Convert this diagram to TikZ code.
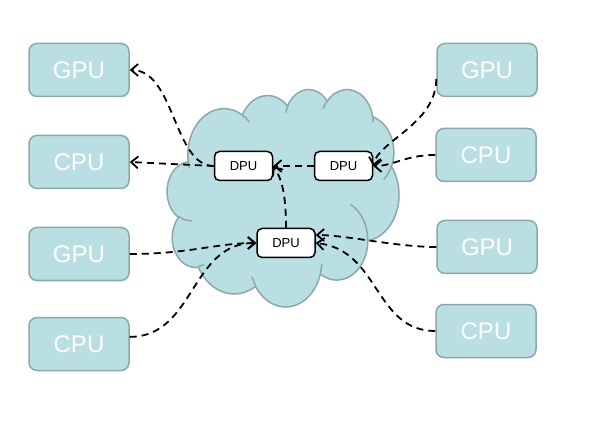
\documentclass[tikz,border=0pt]{standalone}
\usepackage{fontspec}
\setmainfont{Liberation Sans}
\usetikzlibrary{arrows.meta}

\definecolor{boxfill}{RGB}{186,223,227}
\definecolor{boxline}{RGB}{140,168,172}

\begin{document}
\begin{tikzpicture}[x=1pt, y=-1pt,
    unit/.style={draw=boxline, fill=boxfill, line width=1.5pt, rounded corners=8pt, minimum width=100pt, minimum height=53pt, text=white, font=\fontsize{24}{28}\selectfont},
    dpu/.style={draw=black, fill=white, line width=1.5pt, rounded corners=5pt, minimum width=58pt, minimum height=29pt, font=\fontsize{13}{15}\selectfont},
    link/.style={draw=black, line width=1.8pt, dash pattern=on 7pt off 5pt, -{Straight Barb[length=7pt,width=12pt]}}]
    \useasboundingbox (0,0) rectangle (594,430);

    % cloud in the middle
    \begin{scope}[shift={(167.2,88.8)}, x=5.364pt, y=-5.033pt, draw=boxline, line width=1.5pt]
      \filldraw[fill=boxfill] (3.900,14.370)
        arc[start angle=172.26, delta angle=128.10, x radius=6.753, y radius=9.190]
        arc[start angle=-152.02, delta angle=106.57, x radius=5.333, y radius=7.267]
        arc[start angle=-153.49, delta angle=116.16, x radius=4.365, y radius=5.945]
        arc[start angle=-139.72, delta angle=129.50, x radius=4.857, y radius=6.595]
        arc[start angle=-74.77, delta angle=97.98, x radius=5.333, y radius=7.273]
        arc[start angle=-37.52, delta angle=119.38, x radius=6.775, y radius=9.220]
        arc[start angle=0.46, delta angle=121.52, x radius=5.785, y radius=7.867]
        arc[start angle=16.84, delta angle=129.38, x radius=6.752, y radius=9.215]
        arc[start angle=58.98, delta angle=91.20, x radius=7.720, y radius=10.543]
        arc[start angle=83.31, delta angle=139.81, x radius=4.360, y radius=5.918]
        arc[start angle=120.35, delta angle=143.76, x radius=4.345, y radius=5.945]
        -- cycle;
      % inner puff lines
      \draw (4.693,26.177) arc[start angle=85.54, delta angle=34.81, x radius=4.345, y radius=5.945];
      \draw (6.928,34.899) arc[start angle=68.23, delta angle=15.08, x radius=4.360, y radius=5.918];
      \draw (16.478,39.090) arc[start angle=146.22, delta angle=12.25, x radius=6.752, y radius=9.215];
      \draw (28.827,34.751) arc[start angle=4.74, delta angle=12.10, x radius=6.752, y radius=9.215];
      \draw (34.129,22.954) arc[start angle=-64.03, delta angle=64.49, x radius=5.785, y radius=7.867];
      \draw (41.798,15.354) arc[start angle=23.21, delta angle=26.44, x radius=5.333, y radius=7.273];
      \draw (38.324,5.426) arc[start angle=-10.22, delta angle=11.04, x radius=4.857, y radius=6.595];
      \draw (29.078,3.952) arc[start angle=-156.30, delta angle=16.58, x radius=4.857, y radius=6.595];
      \draw (22.141,4.720) arc[start angle=-167.72, delta angle=14.23, x radius=4.365, y radius=5.945];
      \draw (14.000,5.192) arc[start angle=-59.64, delta angle=13.90, x radius=6.753, y radius=9.190];
      \draw (4.127,15.789) arc[start angle=163.19, delta angle=9.07, x radius=6.753, y radius=9.190];
    \end{scope}

    % left side
    \node[unit] (lGPU1) at (79,70) {GPU};
    \node[unit] (lCPU1) at (79,162) {CPU};
    \node[unit] (lGPU2) at (79,254) {GPU};
    \node[unit] (lCPU2) at (79,344) {CPU};

    % right side
    \node[unit] (rGPU1) at (487,70) {GPU};
    \node[unit] (rCPU1) at (486,155) {CPU};
    \node[unit] (rGPU2) at (487,247) {GPU};
    \node[unit] (rCPU2) at (486,331) {CPU};

    % DPUs inside the cloud
    \node[dpu] (dpuL) at (243.5,166) {DPU};
    \node[dpu] (dpuR) at (343.5,166) {DPU};
    \node[dpu] (dpuB) at (286,243) {DPU};

    % links
    \draw[link] (dpuL.west) .. controls +(-40,0) and +(45,0) .. (lGPU1.east);
    \draw[link] (dpuL.west) -- (lCPU1.east);
    \draw[link] (dpuR.west) -- (dpuL.east);
    \draw[link] (dpuB.north) .. controls +(0,-35) and +(8,12) .. (dpuL.east);
    \draw[link] (rGPU1.190) .. controls +(0,45) and +(5,-25) .. (dpuR.east);
    \draw[link] (rCPU1.west) .. controls +(-30,0) and +(20,0) .. (dpuR.east);
    \draw[link] (rGPU2.west) .. controls +(-40,0) and +(30,0) .. (dpuB.15);
    \draw[link] (rCPU2.west) .. controls +(-61,0) and +(64,7) .. (dpuB.east);
    \draw[link] (lGPU2.east) .. controls +(60,0) and +(-40,0) .. (dpuB.west);
    \draw[link] (lCPU2.8) .. controls +(65,0) and +(-66,0) .. (dpuB.west);
\end{tikzpicture}
\end{document}
